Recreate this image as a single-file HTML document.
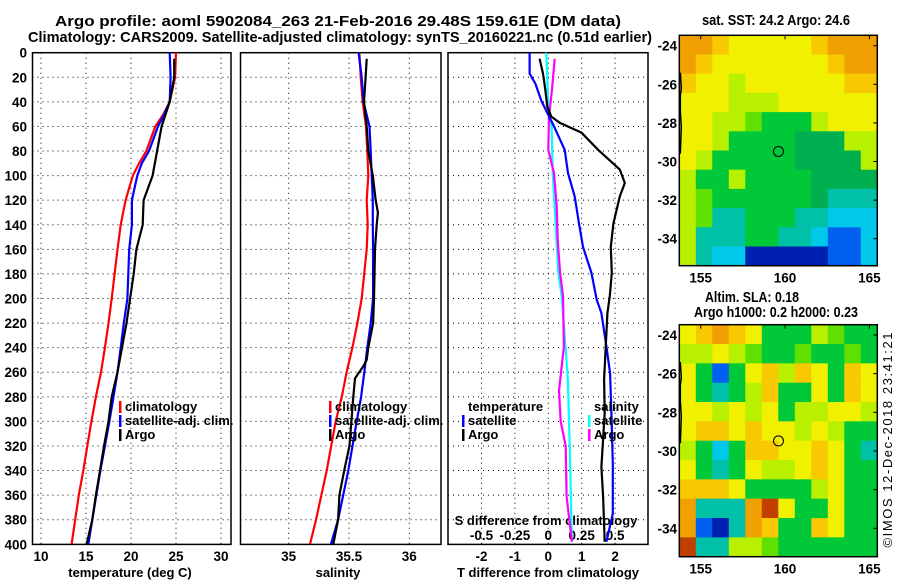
<!DOCTYPE html>
<html><head><meta charset="utf-8"><style>
body{margin:0;background:#fff;}
svg{display:block;font-family:"Liberation Sans",sans-serif;}
.t{font-weight:bold;font-size:13px;}
.ti{font-weight:bold;font-size:15px;}
.tk{font-weight:bold;font-size:13.5px;}
</style></head><body>
<svg id="c" width="900" height="580" xmlns="http://www.w3.org/2000/svg">
<text x="338" y="26" text-anchor="middle" class="ti" textLength="566" lengthAdjust="spacingAndGlyphs">Argo profile: aoml 5902084_263 21-Feb-2016 29.48S 159.61E (DM data)</text>
<text x="340" y="42" text-anchor="middle" class="ti" textLength="624" lengthAdjust="spacingAndGlyphs">Climatology: CARS2009. Satellite-adjusted climatology: synTS_20160221.nc (0.51d earlier)</text>
<text x="776" y="25" text-anchor="middle" class="ti" textLength="148" lengthAdjust="spacingAndGlyphs">sat. SST: 24.2 Argo: 24.6</text>
<text x="752" y="302" text-anchor="middle" class="ti" textLength="94" lengthAdjust="spacingAndGlyphs">Altim. SLA: 0.18</text>
<text x="776" y="317" text-anchor="middle" class="ti" textLength="164" lengthAdjust="spacingAndGlyphs">Argo h1000: 0.2 h2000: 0.23</text>
<text transform="translate(892,440) rotate(-90)" text-anchor="middle" font-size="13" textLength="215">©IMOS 12-Dec-2018 23:41:21</text>
<g id="g"></g>
</svg>
<script>
// depth levels
const depthT=[0,20,40,50,60,80,90,100,120,140,160,200,220,240,260,280,300,320,340,360,380,400];
const tempClim=[25.0,24.9,24.3,23.6,22.7,21.7,20.9,20.2,19.4,18.86,18.5,17.85,17.5,17.1,16.67,16.1,15.6,15.15,14.7,14.2,13.8,13.4];
const tempSat=[24.3,24.4,24.3,23.7,23.0,22.0,21.2,20.7,20.1,20.1,19.8,19.6,19.2,18.85,18.5,18.05,17.6,17.1,16.6,16.15,15.7,15.26];
const depthA=[5,20,40,60,80,100,120,140,160,180,200,220,240,260,280,300,320,340,360,380,400];
const tempArgo=[24.8,24.8,24.3,23.4,22.9,22.4,21.4,21.3,20.6,20.3,19.9,19.5,19.0,18.5,17.85,17.5,17.0,16.55,16.1,15.7,15.07];
const depthS=[0,20,40,60,80,100,120,140,160,200,220,240,260,280,300,340,380,400];
const salClim=[35.586,35.597,35.614,35.641,35.652,35.66,35.647,35.655,35.647,35.605,35.57,35.528,35.48,35.44,35.39,35.315,35.226,35.177];
const salSat=[35.58,35.605,35.62,35.67,35.68,35.688,35.697,35.697,35.70,35.70,35.68,35.652,35.627,35.6,35.564,35.494,35.41,35.35];
const depthSA=[5,20,40,60,80,100,120,130,140,160,200,220,240,250,255,265,280,300,320,340,360,380,400];
const salArgo=[35.647,35.638,35.624,35.647,35.66,35.697,35.721,35.74,35.73,35.716,35.707,35.70,35.66,35.647,35.619,35.55,35.536,35.52,35.503,35.46,35.42,35.41,35.37];
const depthD=[0,17,25,39,49,60,79,98,117,139,158,179,201,212,239,261,293,334,375,398];
const tDiffSat=[-0.56,-0.56,-0.39,-0.21,-0.03,0.17,0.49,0.59,0.79,0.92,1.04,1.29,1.45,1.59,1.74,1.85,1.89,1.93,1.93,1.74];
const depthDA=[5,17,30,44,52,57,65,79,95,106,117,139,158,179,198,212,266,293,337,361,398];
const tDiffArgo=[-0.26,-0.16,-0.09,-0.03,0.09,0.34,0.99,1.49,2.14,2.29,2.14,1.95,1.87,1.90,1.84,1.77,1.67,1.69,1.59,1.64,1.69];
const depthDS=[0,44,60,98,139,179,198,212,266,320,398];
const sDiffSat=[-0.015,0,0.025,0.033,0.055,0.075,0.10,0.11,0.147,0.16,0.177];
const depthDSA=[5,30,52,79,98,125,153,179,198,239,275,300,320,361,398];
const sDiffArgo=[0.048,0.028,0.005,0,0.043,0.063,0.07,0.088,0.11,0.117,0.08,0.093,0.13,0.137,0.177];
const depthTicks=[0,20,40,60,80,100,120,140,160,180,200,220,240,260,280,300,320,340,360,380,400];
const tTicks=[10,15,20,25,30];
const sTicks=[35,35.5,36];
const tdTicks=[-2,-1,0,1,2];
const sdTicks=[-0.5,-0.25,0,0.25,0.5];
const sdLabels=["-0.5","-0.25","0","0.25","0.5"];
const lonTicks=[155,160,165];
const latTicks=[-24,-26,-28,-30,-32,-34];
const sstGrid=["ooayyyyyaooo","oayyyyyyyaoo","ayylyyyyyyaa","yyylllyyyyyy","yyllgGGGlyyy","yylGGGGDDDll","ylGGGGGDDDDl","lGGlGGGGDDDD","lgGGGGGGDttt","lgttGGGttccc","ltttGGttcbbc","ltccBBBBBbbc"];
const slaGrid=["yaoayGGGlgGG","llylgGGgGGgG","yGbGyalayGay","yGtGlaGGyGay","yylylyGllyyl","yaayayylylGG","lGcGaayyayGt","yGtGyllyayGG","aaayGGGGlyGG","otttoryGGyGG","obBtoaGGayGG","rttllgGGGGGG"];

const NS="http://www.w3.org/2000/svg";
const G=document.getElementById('g');
function mk(tag,attrs,parent){const e=document.createElementNS(NS,tag);for(const k in attrs)e.setAttribute(k,attrs[k]);(parent||G).appendChild(e);return e;}
const yD=d=>52.7+1.229*d;
const xT=t=>41+9*(t-10);
const xS=s=>288.7+120.6*(s-35);
const xTD=t=>548.3+33.4*t;
const xSD=s=>548.3+133.6*s;
const panels=[[32.5,231],[240.5,441],[448,648]];

panels.forEach((p,i)=>{
  const r=mk('rect',{x:p[0],y:52.7,width:p[1]-p[0],height:491.7,fill:'none',stroke:'#000','stroke-width':1.5});
  
  
  depthTicks.forEach(d=>{
    if(d>0&&d<400){const l=mk('line',{x1:p[0],x2:p[1],y1:yD(d),y2:yD(d),stroke:'#000','stroke-dasharray':'1 4'});
    
    }
  });
});
depthTicks.forEach(d=>{
  const t=mk('text',{x:27,y:yD(d)+5,'text-anchor':'end',class:'tk'});t.textContent=d;
  
  
});
function vgrid(xs,fx,p){xs.forEach(v=>{const l=mk('line',{x1:fx(v),x2:fx(v),y1:52.7,y2:544.4,stroke:'#000','stroke-dasharray':'1 4'});
  
  });}
vgrid(tTicks,xT);vgrid(sTicks,xS);vgrid(tdTicks,xTD);
function xlabels(vals,fx,y,labels,name){vals.forEach((v,i)=>{const t=mk('text',{x:fx(v),y:y,'text-anchor':'middle',class:'tk'});t.textContent=labels?labels[i]:v;
  
  });}
xlabels(tTicks,xT,561,null,'temperature-tick-label');
xlabels(sTicks,xS,561,null,'salinity-tick-label');
xlabels(tdTicks,xTD,561,null,'t-diff-tick-label');
xlabels(sdTicks,xSD,540,sdLabels,'s-diff-tick-label');
function txt(s,x,y,anchor,name,extra){const t=mk('text',Object.assign({x:x,y:y,'text-anchor':anchor,class:'t'},extra||{}));t.textContent=s;
  
  return t;}
txt('temperature (deg C)',130,577,'middle','temperature-axis-title');
txt('salinity',338,577,'middle','salinity-axis-title');
txt('T difference from climatology',548,577,'middle','t-diff-axis-title');
txt('S difference from climatology',546,525,'middle','s-diff-axis-title');

function line(xs,ds,fx,color,name){const pts=xs.map((v,i)=>fx(v).toFixed(1)+','+yD(ds[i]).toFixed(1)).join(' ');
  const l=mk('polyline',{points:pts,fill:'none',stroke:color,'stroke-width':2.2});
  
  }
line(tempClim,depthT,xT,'#f00','temp-climatology-line');
line(tempSat,depthT,xT,'#00f','temp-satellite-line');
line(tempArgo,depthA,xT,'#000','temp-argo-line');
line(salClim,depthS,xS,'#f00','sal-climatology-line');
line(salSat,depthS,xS,'#00f','sal-satellite-line');
line(salArgo,depthSA,xS,'#000','sal-argo-line');
line(sDiffSat,depthDS,xSD,'#0ff','s-diff-satellite-line');
line(sDiffArgo,depthDSA,xSD,'#f0f','s-diff-argo-line');
line(tDiffSat,depthD,xTD,'#00f','t-diff-satellite-line');
line(tDiffArgo,depthDA,xTD,'#000','t-diff-argo-line');

function leg(x,y,color,label,name){if(color){const m=mk('rect',{x:x-6,y:y-10,width:2.5,height:12,fill:color});
  
  }
  txt(label,x,y,'start',name);}
leg(125,411,'#f00','climatology','legend-climatology');
leg(125,425,'#00f','satellite-adj. clim.','legend-satellite-adj');
leg(125,439,'#000','Argo','legend-argo');
leg(335,411,'#f00','climatology','legend2-climatology');
leg(335,425,'#00f','satellite-adj. clim.','legend2-satellite-adj');
leg(335,439,'#000','Argo','legend2-argo');
leg(468,411,null,'temperature','legend3-temperature-heading');
leg(468,425,'#00f','satellite','legend3-t-satellite');
leg(468,439,'#000','Argo','legend3-t-argo');
leg(594,411,null,'salinity','legend3-salinity-heading');
leg(594,425,'#0ff','satellite','legend3-s-satellite');
leg(594,439,'#f0f','Argo','legend3-s-argo');

const COLORS={o:'#f0a000',a:'#f8c800',y:'#f0f000',l:'#b8f000',g:'#60e000',G:'#00c838',D:'#00b050',t:'#00c0a8',c:'#00c8e8',b:'#0060f0',B:'#0020b0',r:'#c04000'};
const lonX=lon=>700.7+16.87*(lon-155);
function drawMap(grid,top,bottom,lat24,lat34,name){
  const g=mk('g',{});
  
  
  const L=679.3,R=877.3,rows=grid.length,cols=grid[0].length;
  const cw=(R-L)/cols,ch=(bottom-top)/rows;
  grid.forEach((row,ri)=>{for(let ci=0;ci<cols;ci++){
    mk('rect',{x:L+ci*cw,y:top+ri*ch,width:cw+0.5,height:ch+0.5,fill:COLORS[row[ci]]},g);}});
  const latY=lat=>lat24+(lat34-lat24)*(lat+24)/(-10);
  mk('rect',{x:L,y:top,width:R-L,height:bottom-top,fill:'none',stroke:'#000','stroke-width':1.5},g);
  mk('polyline',{points:`${L+1},${latY(-25.4)} ${L+2},${latY(-26.2)} ${L+1},${latY(-26.6)} ${L+1},${latY(-27.4)} ${L+2},${latY(-28.2)} ${L+1},${latY(-29.6)}`,fill:'none',stroke:'#000','stroke-width':1.5},g);
  const c=mk('circle',{cx:lonX(159.61),cy:latY(-29.48),r:5,fill:'none',stroke:'#000','stroke-width':1});
  
  
  latTicks.forEach(lat=>{const t=mk('text',{x:677,y:latY(lat)+5,'text-anchor':'end',class:'tk'});t.textContent=lat;
    
    
    mk('line',{x1:R,x2:R-4,y1:latY(lat),y2:latY(lat),stroke:'#000'});});
  lonTicks.forEach(lon=>{const t=mk('text',{x:lonX(lon),y:bottom+17,'text-anchor':'middle',class:'tk'});t.textContent=lon;
    
    
    mk('line',{x1:lonX(lon),x2:lonX(lon),y1:top,y2:top+4,stroke:'#000'});});
}
drawMap(sstGrid,35.3,265.7,45.7,238.7,'sst-map');
drawMap(slaGrid,324.7,556.7,335,528.3,'sla-map');
</script>
</body></html>
